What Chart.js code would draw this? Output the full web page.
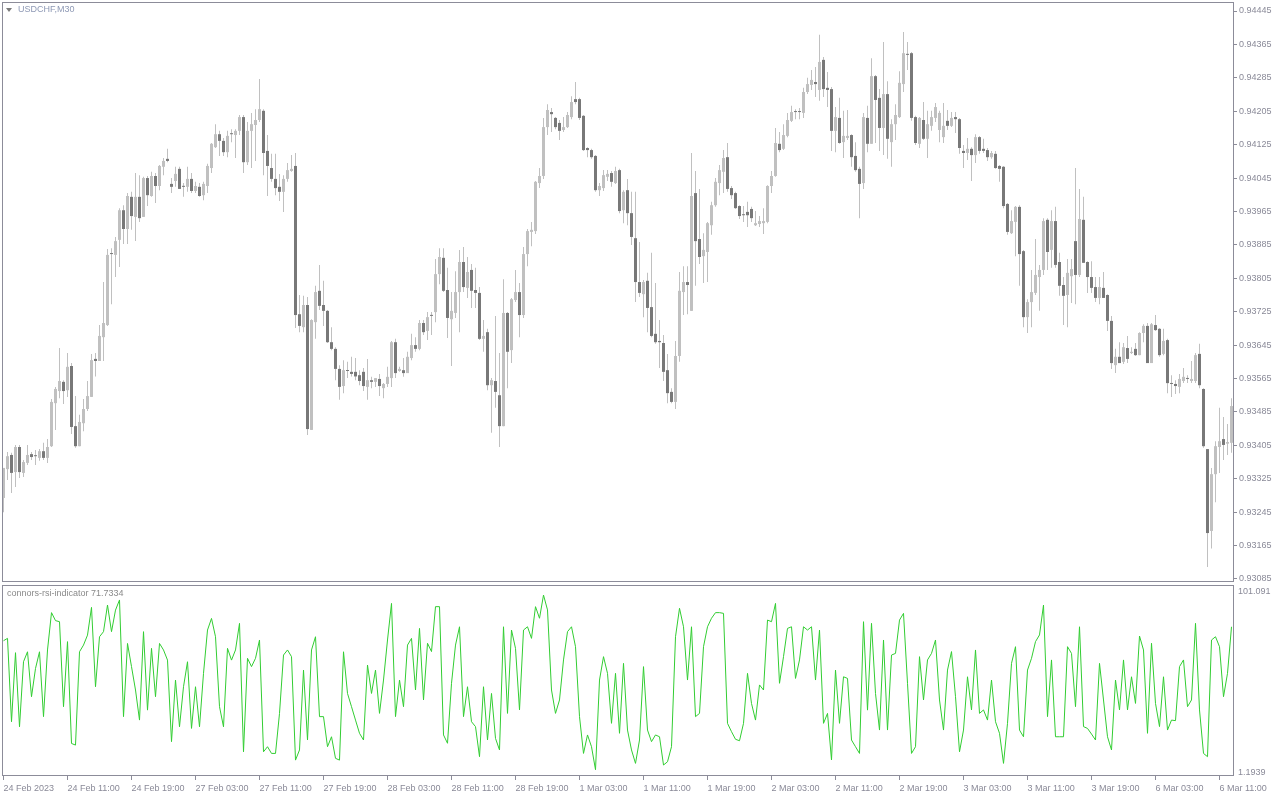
<!DOCTYPE html>
<html><head><meta charset="utf-8"><title>USDCHF,M30</title>
<script src="https://cdn.jsdelivr.net/npm/chart.js"></script>
<style>
html,body{margin:0;padding:0;background:#fff;}
body{width:1280px;height:800px;position:relative;overflow:hidden;}
canvas{position:absolute;left:0;}
#c1{top:0;}
#c2{top:583px;}
.cap{position:absolute;font-family:"Liberation Sans",Arial,sans-serif;font-size:9px;line-height:11px;white-space:nowrap;}
#sym{left:18px;top:4px;color:#8e99b5;}
#ind{left:7px;top:588px;color:#8a8a8a;}
#tri{position:absolute;left:6px;top:8px;width:0;height:0;border-left:3px solid transparent;border-right:3px solid transparent;border-top:4px solid #7a7a7a;}
</style></head><body>
<canvas id="c1" width="1280" height="583"></canvas>
<canvas id="c2" width="1280" height="217"></canvas>
<div id="tri"></div>
<div class="cap" id="sym">USDCHF,M30</div>
<div class="cap" id="ind">connors-rsi-indicator 71.7334</div>
<script>
// ---- data (USDCHF M30, bar 0 = 24 Feb 2023 03:00) ----
const opens = [
0.93279,0.93348,0.93382,0.93341,0.93401,0.93339,0.93363,0.93384,0.93379,0.93375,
0.93391,0.93375,0.93403,0.93506,0.93535,0.93557,0.93537,0.93595,0.93451,0.93403,
0.93458,0.93492,0.93521,0.93612,0.93607,0.93664,0.93693,0.93863,0.93861,0.93897,
0.93968,0.93923,0.94000,0.93952,0.94000,0.93952,0.94045,0.94002,0.94050,0.94026,
0.94072,0.94091,0.94031,0.94038,0.94067,0.94024,0.94024,0.94043,0.94014,0.94024,
0.94004,0.94026,0.94069,0.94119,0.94150,0.94134,0.94107,0.94150,0.94148,0.94158,
0.94191,0.94083,0.94158,0.94172,0.94184,0.94206,0.94110,0.94069,0.94043,0.94024,
0.94012,0.94043,0.94062,0.94074,0.93719,0.93688,0.93741,0.93442,0.93700,0.93775,
0.93741,0.93727,0.93652,0.93636,0.93588,0.93547,0.93583,0.93581,0.93581,0.93573,
0.93581,0.93545,0.93561,0.93557,0.93564,0.93542,0.93552,0.93566,0.93652,0.93583,
0.93585,0.93578,0.93614,0.93645,0.93636,0.93698,0.93679,0.93715,0.93724,0.93815,
0.93854,0.93777,0.93707,0.93722,0.93772,0.93844,0.93782,0.93825,0.93777,0.93770,
0.93660,0.93676,0.93549,0.93559,0.93525,0.93451,0.93722,0.93633,0.93753,0.93772,
0.93717,0.93863,0.93916,0.93918,0.94033,0.94050,0.94167,0.94203,0.94189,0.94177,
0.94160,0.94167,0.94191,0.94234,0.94234,0.94194,0.94117,0.94112,0.94098,0.94016,
0.94021,0.94048,0.94057,0.94033,0.94064,0.93968,0.94016,0.93961,0.93901,0.93796,
0.93767,0.93799,0.93736,0.93672,0.93655,0.93650,0.93585,0.93533,0.93509,0.93619,
0.93772,0.93796,0.93727,0.94009,0.93899,0.93858,0.93868,0.93932,0.93980,0.94033,
0.94060,0.94095,0.94021,0.94009,0.93978,0.93956,0.93964,0.93971,0.93932,0.93935,
0.93937,0.93940,0.94026,0.94050,0.94127,0.94115,0.94146,0.94182,0.94203,0.94203,
0.94201,0.94251,0.94268,0.94275,0.94256,0.94328,0.94261,0.94258,0.94158,0.94189,
0.94131,0.94141,0.94148,0.94098,0.94067,0.94033,0.94189,0.94127,0.94289,0.94237,
0.94165,0.94246,0.94131,0.94174,0.94191,0.94270,0.94342,0.94344,0.94191,0.94127,
0.94184,0.94139,0.94170,0.94189,0.94160,0.94143,0.94182,0.94170,0.94191,0.94186,
0.94110,0.94105,0.94115,0.94100,0.94143,0.94115,0.94112,0.94095,0.94103,0.94074,
0.94072,0.93983,0.93913,0.93940,0.93976,0.93870,0.93712,0.93748,0.93770,0.93808,
0.93825,0.93945,0.93873,0.93942,0.93844,0.93789,0.93765,0.93810,0.93894,0.93813,
0.93945,0.93844,0.93808,0.93784,0.93758,0.93782,0.93765,0.93703,0.93597,0.93617,
0.93605,0.93638,0.93626,0.93636,0.93621,0.93674,0.93691,0.93602,0.93693,0.93684,
0.93624,0.93657,0.93554,0.93552,0.93545,0.93559,0.93564,0.93559,0.93559,0.93624,
0.93540,0.93396,0.93200,0.93336,0.93401,0.93420,0.93409,0.93411];
const highs = [
0.93351,0.93389,0.93387,0.93406,0.93406,0.93370,0.93406,0.93389,0.93394,0.93396,
0.93411,0.93420,0.93516,0.93545,0.93638,0.93561,0.93626,0.93602,0.93523,0.93478,
0.93516,0.93559,0.93624,0.93626,0.93693,0.93796,0.93875,0.93877,0.93904,0.93973,
0.93980,0.94009,0.94012,0.94057,0.94052,0.94048,0.94050,0.94060,0.94057,0.94076,
0.94093,0.94115,0.94045,0.94072,0.94072,0.94033,0.94072,0.94057,0.94036,0.94033,
0.94036,0.94079,0.94129,0.94174,0.94158,0.94141,0.94158,0.94162,0.94162,0.94196,
0.94196,0.94179,0.94201,0.94210,0.94282,0.94210,0.94148,0.94103,0.94103,0.94055,
0.94052,0.94081,0.94100,0.94105,0.93765,0.93763,0.93760,0.93707,0.93787,0.93837,
0.93799,0.93729,0.93688,0.93640,0.93597,0.93609,0.93605,0.93617,0.93614,0.93585,
0.93590,0.93612,0.93569,0.93566,0.93576,0.93554,0.93593,0.93655,0.93660,0.93593,
0.93614,0.93629,0.93672,0.93664,0.93705,0.93705,0.93724,0.93724,0.93851,0.93877,
0.93877,0.93830,0.93772,0.93822,0.93873,0.93880,0.93856,0.93839,0.93830,0.93784,
0.93705,0.93684,0.93566,0.93715,0.93626,0.93803,0.93724,0.93758,0.93825,0.93794,
0.93880,0.93923,0.93940,0.94038,0.94069,0.94189,0.94222,0.94213,0.94191,0.94184,
0.94191,0.94203,0.94241,0.94275,0.94237,0.94196,0.94119,0.94115,0.94100,0.94033,
0.94064,0.94064,0.94062,0.94072,0.94067,0.94016,0.94043,0.94012,0.94012,0.93892,
0.93801,0.93818,0.93866,0.93794,0.93705,0.93669,0.93624,0.93542,0.93655,0.93820,
0.93834,0.93834,0.94105,0.94062,0.94019,0.93913,0.93940,0.93988,0.94045,0.94076,
0.94112,0.94129,0.94026,0.94012,0.93980,0.93978,0.93988,0.93976,0.93966,0.93954,
0.93973,0.94028,0.94062,0.94165,0.94155,0.94174,0.94201,0.94218,0.94210,0.94213,
0.94261,0.94285,0.94304,0.94311,0.94388,0.94335,0.94299,0.94263,0.94215,0.94237,
0.94206,0.94208,0.94150,0.94131,0.94072,0.94201,0.94218,0.94332,0.94292,0.94258,
0.94371,0.94277,0.94186,0.94222,0.94301,0.94395,0.94371,0.94347,0.94194,0.94191,
0.94227,0.94206,0.94206,0.94225,0.94206,0.94225,0.94208,0.94203,0.94203,0.94189,
0.94124,0.94141,0.94119,0.94150,0.94146,0.94139,0.94117,0.94110,0.94110,0.94076,
0.94074,0.93985,0.93968,0.93978,0.93980,0.93873,0.93755,0.93825,0.93899,0.93837,
0.93949,0.93949,0.93968,0.93976,0.93866,0.93808,0.93851,0.93851,0.94069,0.94019,
0.94000,0.93846,0.93846,0.93808,0.93808,0.93820,0.93767,0.93715,0.93636,0.93652,
0.93650,0.93667,0.93640,0.93650,0.93676,0.93695,0.93698,0.93698,0.93717,0.93686,
0.93684,0.93660,0.93573,0.93561,0.93576,0.93590,0.93573,0.93607,0.93626,0.93648,
0.93542,0.93396,0.93351,0.93415,0.93495,0.93473,0.93456,0.93518];
const lows = [
0.93245,0.93322,0.93291,0.93305,0.93327,0.93329,0.93358,0.93370,0.93358,0.93368,
0.93370,0.93363,0.93401,0.93442,0.93518,0.93504,0.93521,0.93432,0.93399,0.93403,
0.93439,0.93487,0.93521,0.93570,0.93607,0.93607,0.93691,0.93743,0.93808,0.93832,
0.93887,0.93887,0.93921,0.93894,0.93940,0.93952,0.93978,0.94000,0.93985,0.94016,
0.94052,0.94083,0.94009,0.94024,0.94019,0.94000,0.94012,0.94009,0.94009,0.94000,
0.93992,0.94009,0.94057,0.94117,0.94098,0.94098,0.94095,0.94131,0.94093,0.94148,
0.94057,0.94076,0.94069,0.94086,0.94179,0.94052,0.94002,0.94036,0.94004,0.93990,
0.93964,0.94036,0.94060,0.93686,0.93676,0.93676,0.93430,0.93442,0.93660,0.93729,
0.93691,0.93650,0.93633,0.93561,0.93514,0.93530,0.93566,0.93570,0.93561,0.93549,
0.93535,0.93514,0.93542,0.93545,0.93523,0.93518,0.93545,0.93545,0.93566,0.93581,
0.93569,0.93578,0.93609,0.93629,0.93633,0.93669,0.93657,0.93669,0.93700,0.93791,
0.93772,0.93662,0.93595,0.93710,0.93676,0.93772,0.93758,0.93734,0.93734,0.93657,
0.93629,0.93537,0.93435,0.93495,0.93401,0.93451,0.93542,0.93602,0.93748,0.93664,
0.93710,0.93834,0.93882,0.93911,0.94021,0.94043,0.94148,0.94155,0.94162,0.94136,
0.94155,0.94165,0.94186,0.94222,0.94184,0.94110,0.94095,0.94091,0.94012,0.94002,
0.94014,0.94038,0.94024,0.94031,0.93961,0.93937,0.93932,0.93885,0.93748,0.93760,
0.93712,0.93676,0.93664,0.93648,0.93590,0.93559,0.93506,0.93506,0.93492,0.93605,
0.93717,0.93719,0.93727,0.93787,0.93839,0.93794,0.93796,0.93909,0.93976,0.94004,
0.94009,0.94012,0.93995,0.93971,0.93947,0.93940,0.93928,0.93940,0.93930,0.93928,
0.93911,0.93937,0.94009,0.94048,0.94107,0.94112,0.94143,0.94179,0.94186,0.94186,
0.94189,0.94246,0.94256,0.94239,0.94230,0.94239,0.94215,0.94110,0.94107,0.94127,
0.94093,0.94136,0.94072,0.94060,0.93949,0.94019,0.94107,0.94127,0.94129,0.94110,
0.94100,0.94091,0.94072,0.94136,0.94189,0.94251,0.94304,0.94182,0.94124,0.94117,
0.94136,0.94093,0.94158,0.94179,0.94131,0.94129,0.94160,0.94167,0.94153,0.94103,
0.94069,0.94088,0.94038,0.94081,0.94103,0.94105,0.94086,0.94091,0.94067,0.94036,
0.93973,0.93909,0.93911,0.93858,0.93787,0.93688,0.93674,0.93688,0.93765,0.93727,
0.93813,0.93825,0.93830,0.93830,0.93763,0.93693,0.93688,0.93746,0.93743,0.93808,
0.93842,0.93770,0.93770,0.93748,0.93743,0.93758,0.93679,0.93588,0.93578,0.93602,
0.93600,0.93602,0.93624,0.93619,0.93621,0.93652,0.93602,0.93602,0.93679,0.93617,
0.93621,0.93530,0.93521,0.93528,0.93530,0.93554,0.93554,0.93554,0.93554,0.93542,
0.93399,0.93114,0.93158,0.93269,0.93339,0.93370,0.93382,0.93387];
const closes = [
0.93351,0.93379,0.93339,0.93401,0.93341,0.93365,0.93382,0.93377,0.93379,0.93391,
0.93375,0.93401,0.93509,0.93540,0.93559,0.93535,0.93593,0.93449,0.93403,0.93461,
0.93492,0.93523,0.93609,0.93607,0.93667,0.93698,0.93861,0.93863,0.93894,0.93968,
0.93923,0.94002,0.93954,0.94000,0.93949,0.94045,0.94004,0.94050,0.94026,0.94074,
0.94086,0.94086,0.94024,0.94055,0.94019,0.94024,0.94043,0.94014,0.94026,0.94002,
0.94031,0.94074,0.94127,0.94150,0.94134,0.94107,0.94146,0.94150,0.94158,0.94191,
0.94083,0.94158,0.94174,0.94184,0.94210,0.94105,0.94074,0.94043,0.94021,0.94012,
0.94043,0.94064,0.94067,0.93717,0.93691,0.93741,0.93444,0.93705,0.93772,0.93739,
0.93727,0.93652,0.93636,0.93588,0.93545,0.93585,0.93583,0.93576,0.93570,0.93559,
0.93547,0.93561,0.93557,0.93566,0.93547,0.93552,0.93569,0.93652,0.93578,0.93588,
0.93578,0.93617,0.93645,0.93636,0.93698,0.93676,0.93712,0.93715,0.93815,0.93856,
0.93775,0.93710,0.93727,0.93772,0.93844,0.93784,0.93820,0.93775,0.93770,0.93660,
0.93667,0.93549,0.93561,0.93533,0.93451,0.93722,0.93629,0.93755,0.93772,0.93717,
0.93863,0.93918,0.93921,0.94036,0.94050,0.94167,0.94208,0.94198,0.94167,0.94158,
0.94167,0.94196,0.94227,0.94227,0.94189,0.94112,0.94112,0.94095,0.94016,0.94026,
0.94052,0.94055,0.94036,0.94062,0.93966,0.94012,0.93961,0.93904,0.93796,0.93770,
0.93796,0.93734,0.93667,0.93652,0.93652,0.93581,0.93530,0.93509,0.93619,0.93775,
0.93796,0.93789,0.94002,0.93894,0.93856,0.93873,0.93937,0.93980,0.94036,0.94064,
0.94093,0.94019,0.94004,0.93973,0.93954,0.93956,0.93956,0.93949,0.93937,0.93942,
0.93942,0.94026,0.94050,0.94129,0.94112,0.94148,0.94184,0.94203,0.94203,0.94203,
0.94251,0.94270,0.94280,0.94270,0.94323,0.94258,0.94256,0.94158,0.94191,0.94129,
0.94146,0.94146,0.94095,0.94064,0.94031,0.94191,0.94127,0.94289,0.94232,0.94165,
0.94246,0.94139,0.94174,0.94196,0.94273,0.94344,0.94340,0.94189,0.94129,0.94189,
0.94139,0.94174,0.94191,0.94215,0.94201,0.94170,0.94170,0.94189,0.94186,0.94117,
0.94105,0.94115,0.94100,0.94143,0.94110,0.94110,0.94095,0.94105,0.94069,0.94067,
0.93978,0.93916,0.93942,0.93976,0.93863,0.93712,0.93748,0.93772,0.93813,0.93825,
0.93942,0.93868,0.93942,0.93837,0.93787,0.93763,0.93818,0.93827,0.93813,0.93947,
0.93842,0.93808,0.93782,0.93758,0.93784,0.93758,0.93703,0.93602,0.93617,0.93602,
0.93640,0.93612,0.93629,0.93621,0.93674,0.93691,0.93602,0.93695,0.93681,0.93621,
0.93655,0.93554,0.93552,0.93547,0.93564,0.93569,0.93564,0.93564,0.93621,0.93549,
0.93403,0.93195,0.93336,0.93403,0.93415,0.93406,0.93413,0.93499];
const crsi = [
74.2,75.5,29.5,67.6,26.7,62.6,68.1,43.3,58.9,68.1,
32.3,69.1,89.7,85.3,84.7,37.8,73.7,17.5,16.6,68.1,
71.8,77.3,92.6,48.8,76.4,79.2,93.9,79.2,91.1,96.7,
32.3,72.7,59.9,47.0,30.4,79.2,35.9,70.0,43.3,72.7,
69.1,63.5,18.5,52.5,26.7,48.8,62.6,25.8,48.8,26.7,
56.2,80.1,86.5,76.4,37.8,26.7,70.0,63.5,69.1,83.8,
12.9,64.5,59.9,64.5,74.6,12.9,15.7,12.0,12.0,34.1,
66.3,69.1,65.4,8.3,13.9,58.0,19.4,69.1,76.4,32.3,
32.3,15.7,21.2,9.3,8.3,68.1,45.1,37.8,30.4,23.1,
19.4,60.8,45.1,58.0,34.1,52.5,74.6,94.8,32.3,52.5,
37.8,71.8,75.5,47.0,81.0,41.5,72.8,68.2,93.0,93.0,
22.2,17.6,50.7,71.8,81.9,32.3,48.8,29.5,26.8,10.2,
48.8,19.4,45.1,20.3,13.9,81.9,34.1,80.1,70.0,36.0,
80.1,81.9,75.5,93.0,86.6,99.4,91.2,47.0,34.1,41.5,
63.6,79.2,81.9,70.9,32.3,12.0,22.2,15.7,3.0,52.5,
65.4,56.2,28.6,56.2,23.1,61.7,24.9,13.9,6.5,19.4,
59.9,24.9,18.5,22.2,21.2,5.6,7.4,15.7,76.4,92.1,
81.9,52.5,81.9,32.3,34.1,70.9,81.9,86.6,89.7,89.7,
89.3,28.6,24.0,19.8,19.0,28.6,56.2,39.6,30.4,49.8,
47.0,85.6,84.7,94.8,50.7,65.4,81.0,81.9,53.4,63.6,
81.9,80.1,81.9,52.5,80.1,28.6,34.1,8.4,58.0,28.6,
54.3,53.4,19.4,15.7,12.0,84.7,35.9,83.8,45.1,24.9,
74.6,24.9,66.3,67.2,85.6,89.3,50.7,12.0,15.7,65.4,
41.5,63.6,67.2,74.6,41.5,24.9,58.0,68.2,43.3,12.9,
24.9,54.3,36.0,69.1,34.1,36.0,30.4,52.5,29.5,23.1,
6.5,28.6,61.7,70.9,24.9,21.2,58.0,64.5,73.7,77.4,
93.9,32.3,63.6,21.2,21.2,21.2,70.9,67.2,37.8,81.9,
26.8,25.8,22.7,19.4,61.7,41.5,21.2,13.9,52.5,36.0,
63.6,36.0,54.3,39.6,76.8,69.1,23.1,72.8,39.6,26.8,
54.3,24.9,30.4,30.1,59.9,63.6,37.8,41.5,83.8,36.0,
12.0,10.2,74.6,76.4,70.9,43.3,56.2,81.9];
const timeLabels = ['24 Feb 2023','24 Feb 11:00','24 Feb 19:00','27 Feb 03:00','27 Feb 11:00',
  '27 Feb 19:00','28 Feb 03:00','28 Feb 11:00','28 Feb 19:00','1 Mar 03:00','1 Mar 11:00',
  '1 Mar 19:00','2 Mar 03:00','2 Mar 11:00','2 Mar 19:00','3 Mar 03:00','3 Mar 11:00',
  '3 Mar 19:00','6 Mar 03:00','6 Mar 11:00'];
const priceTicks = [0.94445,0.94365,0.94285,0.94205,0.94125,0.94045,0.93965,0.93885,0.93805,
  0.93725,0.93645,0.93565,0.93485,0.93405,0.93325,0.93245,0.93165,0.93085];
const oscTicks = [101.091, 1.1939];

// ---- styling ----
const FONT = {family: '"Liberation Sans", Arial, sans-serif', size: 9};
const TXT = '#8a8a98';
const FRAME = '#8c8c99';
const BULL = '#c0c0c0', BEAR = '#787878', WICK = '#c0c0c0';
const LABEL_EVERY = 16;

const framePlugin = {
  id: 'frame',
  afterDatasetsDraw(chart) {
    const a = chart.chartArea, c = chart.ctx;
    c.save();
    c.strokeStyle = FRAME; c.lineWidth = 1;
    c.strokeRect(a.left + 0.5, a.top + 0.5, a.right - a.left, a.bottom - a.top - 1);
    c.restore();
  }
};

const xIndex = opens.map((_, i) => i);
const bodyData = xIndex.map(i => ({x: i, y: [opens[i], closes[i]]}));
const wickData = xIndex.map(i => ({x: i, y: [lows[i], highs[i]]}));
const oscData = xIndex.map(i => ({x: i, y: crsi[i]}));

const X_MIN = -0.375, X_MAX = xIndex.length - 1 + 0.375;

new Chart(document.getElementById('c1'), {
  type: 'bar',
  data: {datasets: [
    {data: bodyData, order: 0, grouped: false, barThickness: 3, minBarLength: 1,
     borderWidth: 0, inflateAmount: 0,
     backgroundColor: ctx => {
       const i = ctx.dataIndex;
       if (i === undefined) return BEAR;
       return closes[i] > opens[i] ? BULL : BEAR;
     }},
    {data: wickData, order: 1, grouped: false, barThickness: 1,
     borderWidth: 0, inflateAmount: 0, backgroundColor: WICK}
  ]},
  options: {
    responsive: false, animation: false, events: [],
    layout: {padding: {left: 2, top: 2, right: 0, bottom: 1}},
    plugins: {legend: {display: false}, tooltip: {enabled: false}},
    scales: {
      x: {type: 'linear', min: X_MIN, max: X_MAX, display: false, offset: false, bounds: 'data'},
      y: {position: 'right', min: 0.930778, max: 0.9446655, bounds: 'data',
          afterBuildTicks: s => { s.ticks = priceTicks.map(v => ({value: v})); },
          afterFit: s => { s.width = 47; s.paddingTop = 0; s.paddingBottom = 0; },
          ticks: {autoSkip: false, padding: 2, color: TXT, font: FONT, callback: v => Number(v).toFixed(5)},
          grid: {drawOnChartArea: false, drawTicks: true, tickLength: 4, color: FRAME},
          border: {display: false}}
    }
  },
  plugins: [framePlugin]
});

new Chart(document.getElementById('c2'), {
  type: 'line',
  data: {datasets: [
    {data: oscData, borderColor: '#32cd32', borderWidth: 1, pointRadius: 0, tension: 0, fill: false}
  ]},
  options: {
    responsive: false, animation: false, events: [],
    layout: {padding: {left: 2, top: 2, right: 0, bottom: 0}},
    plugins: {legend: {display: false}, tooltip: {enabled: false}},
    scales: {
      x: {type: 'linear', min: X_MIN, max: X_MAX, offset: false, bounds: 'data', position: 'bottom',
          afterBuildTicks: s => { s.ticks = timeLabels.map((_, k) => ({value: k * LABEL_EVERY})); },
          afterFit: s => { s.height = 24; s.paddingLeft = 0; s.paddingRight = 0; },
          ticks: {autoSkip: false, maxRotation: 0, minRotation: 0, align: 'start', padding: 3,
                  color: TXT, font: FONT, callback: (v, idx) => timeLabels[idx]},
          grid: {drawOnChartArea: false, drawTicks: true, tickLength: 4, color: FRAME},
          border: {display: false}},
      y: {position: 'right', min: -0.462, max: 104.954, bounds: 'data',
          afterBuildTicks: s => { s.ticks = oscTicks.map(v => ({value: v})); },
          afterFit: s => { s.width = 47; s.paddingTop = 0; s.paddingBottom = 0; },
          ticks: {autoSkip: false, padding: 5, color: TXT, font: FONT, callback: v => String(v)},
          grid: {display: false, drawTicks: false},
          border: {display: false}}
    }
  },
  plugins: [framePlugin]
});
</script>
</body></html>
